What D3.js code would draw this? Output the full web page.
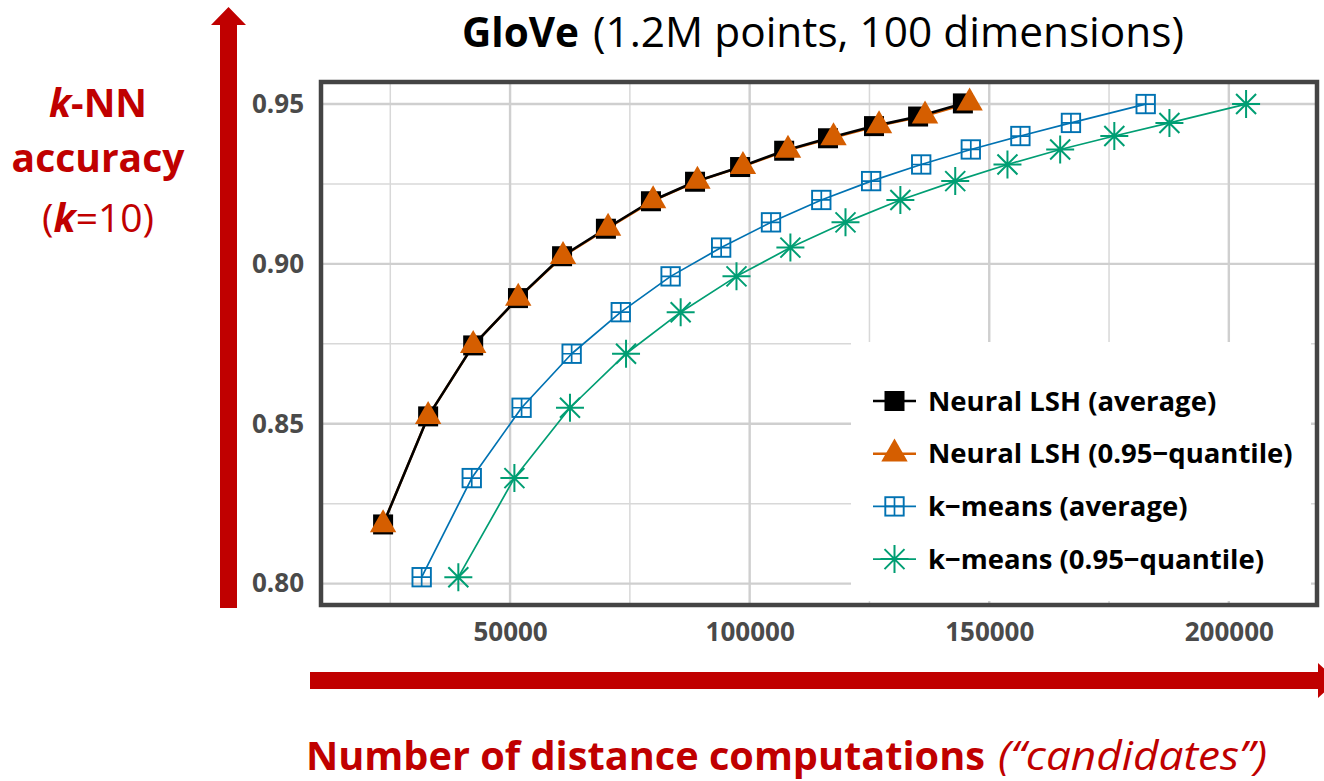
<!DOCTYPE html>
<html><head><meta charset="utf-8">
<script src="https://cdn.jsdelivr.net/npm/d3@7"></script>
<style>body{margin:0;background:#fff;} svg{display:block;}</style>
</head><body><svg id="c" width="1324" height="781"></svg>
<script>
// ---------- data ----------
const xTickValues = [50000, 100000, 150000, 200000];
const yTickValues = [0.80, 0.85, 0.90, 0.95];
const xMinorGrid = [25000, 75000, 125000, 175000];
const yMinorGrid = [0.825, 0.875, 0.925];

const seriesNames = ["Neural LSH (average)", "Neural LSH (0.95\u2212quantile)", "k\u2212means (average)", "k\u2212means (0.95\u2212quantile)"];

const nlshAvgX = [23500, 32900, 42300, 51650, 60850, 70000, 79400, 88600, 98000, 107200, 116350, 125950, 135150, 144500];
const nlshAvgY = [0.8185, 0.8523, 0.8745, 0.8893, 0.9024, 0.9110, 0.9196, 0.9257, 0.9303, 0.9354, 0.9393, 0.9431, 0.9461, 0.9502];

const nlshQX = [23500, 32900, 42300, 51700, 61050, 70450, 79850, 89100, 98600, 108000, 117500, 127000, 136600, 145900];
const nlshQY = [0.8185, 0.8523, 0.8745, 0.8893, 0.9024, 0.9112, 0.9198, 0.9259, 0.9305, 0.9356, 0.9395, 0.9433, 0.9463, 0.9504];

const kmAvgX = [31550, 42000, 52400, 62850, 73100, 83500, 94050, 104450, 114950, 125350, 135800, 146150, 156500, 167050, 182650];
const kmAvgY = [0.8020, 0.8330, 0.8550, 0.8719, 0.8849, 0.8961, 0.9051, 0.9130, 0.9200, 0.9259, 0.9311, 0.9358, 0.9400, 0.9441, 0.9500];

const kmQX = [39200, 50900, 62500, 74200, 85600, 97250, 108500, 120000, 131450, 142900, 153800, 164800, 176100, 187600, 203600];
const kmQY = [0.8020, 0.8330, 0.8550, 0.8719, 0.8849, 0.8961, 0.9051, 0.9130, 0.9200, 0.9259, 0.9311, 0.9358, 0.9400, 0.9441, 0.9500];

// ---------- setup ----------
const svg = d3.select("#c");
const RED = "#c00000";
const P = {l: 321, t: 82, r: 1317, b: 605};
const x = d3.scaleLinear().domain([10540, 218400]).range([P.l, P.r]);
const y = d3.scaleLinear().domain([0.7933, 0.9569]).range([P.b, P.t]);

const zip = (xs, ys) => xs.map((v, i) => ({x: v, y: ys[i]}));
const series = [
  {name: seriesNames[0], data: zip(nlshAvgX, nlshAvgY), color: "#000000", shape: "square", lw: 2.6},
  {name: seriesNames[1], data: zip(nlshQX, nlshQY), color: "#D55E00", shape: "triangle", lw: 2.4},
  {name: seriesNames[2], data: zip(kmAvgX, kmAvgY), color: "#0072B2", shape: "boxcross", lw: 1.7},
  {name: seriesNames[3], data: zip(kmQX, kmQY), color: "#009E73", shape: "asterisk", lw: 1.7}
];

// ---------- red arrows ----------
svg.append("path").attr("fill", RED)
  .attr("d", "M220,608 L220,25 L211,25 L228.5,7 L246,25 L237,25 L237,608 Z");
svg.append("path").attr("fill", RED)
  .attr("d", "M310,672 L1318,672 L1318,663 L1337,680.5 L1318,698 L1318,689 L310,689 Z");

// ---------- panel ----------
svg.append("rect").attr("x", P.l).attr("y", P.t).attr("width", P.r - P.l).attr("height", P.b - P.t).attr("fill", "#fff");
const grid = svg.append("g");
grid.selectAll(".vmin").data(xMinorGrid).join("line")
  .attr("x1", d => x(d)).attr("x2", d => x(d)).attr("y1", P.t).attr("y2", P.b)
  .attr("stroke", "#d8d8d8").attr("stroke-width", 1.5);
grid.selectAll(".hmin").data(yMinorGrid).join("line")
  .attr("y1", d => y(d)).attr("y2", d => y(d)).attr("x1", P.l).attr("x2", P.r)
  .attr("stroke", "#d8d8d8").attr("stroke-width", 1.5);
grid.selectAll(".vmaj").data(xTickValues).join("line")
  .attr("x1", d => x(d)).attr("x2", d => x(d)).attr("y1", P.t).attr("y2", P.b)
  .attr("stroke", "#cfcfcf").attr("stroke-width", 2.4);
grid.selectAll(".hmaj").data(yTickValues).join("line")
  .attr("y1", d => y(d)).attr("y2", d => y(d)).attr("x1", P.l).attr("x2", P.r)
  .attr("stroke", "#cfcfcf").attr("stroke-width", 2.4);

// ---------- markers ----------
function drawMarker(g, shape, color) {
  if (shape === "square") {
    g.append("rect").attr("x", -10).attr("y", -10).attr("width", 20).attr("height", 20).attr("fill", color);
  } else if (shape === "triangle") {
    g.append("path").attr("d", "M0,-15.3 L13.2,7.7 L-13.2,7.7 Z").attr("fill", color);
  } else if (shape === "boxcross") {
    g.append("rect").attr("x", -9.2).attr("y", -9.2).attr("width", 18.4).attr("height", 18.4)
      .attr("fill", "none").attr("stroke", color).attr("stroke-width", 1.9);
    g.append("path").attr("d", "M0,-9.2 L0,9.2 M-9.2,0 L9.2,0").attr("stroke", color).attr("stroke-width", 1.7);
  } else if (shape === "asterisk") {
    const r = 14, q = 10;
    g.append("path").attr("d", `M${-r},0 L${r},0 M0,${-r} L0,${r} M${-q},${-q} L${q},${q} M${-q},${q} L${q},${-q}`)
      .attr("stroke", color).attr("stroke-width", 2).attr("fill", "none");
  }
}

const line = d3.line().x(d => x(d.x)).y(d => y(d.y));
const lineOrder = [1, 0, 2, 3];
lineOrder.forEach(i => {
  const s = series[i];
  svg.append("path").datum(s.data).attr("d", line).attr("fill", "none")
    .attr("stroke", s.color).attr("stroke-width", s.lw).attr("stroke-linejoin", "round");
});
[0, 1, 2, 3].forEach(i => {
  const s = series[i];
  svg.append("g").selectAll("g").data(s.data).join("g")
    .attr("transform", d => `translate(${x(d.x)},${y(d.y)})`)
    .each(function () { drawMarker(d3.select(this), s.shape, s.color); });
});

// ---------- legend ----------
const leg = svg.append("g");
leg.append("rect").attr("x", 851).attr("y", 342).attr("width", 460).attr("height", 259).attr("fill", "#fff");
series.forEach((s, i) => {
  const cy = 401 + i * 52.7;
  const g = leg.append("g").attr("transform", `translate(0,${cy})`);
  g.append("line").attr("x1", 873).attr("x2", 916).attr("y1", 0).attr("y2", 0)
    .attr("stroke", s.color).attr("stroke-width", s.lw);
  drawMarker(g.append("g").attr("transform", "translate(894.5,0)"), s.shape, s.color);
  g.append("text").attr("x", 928).attr("y", 0).attr("dy", "0.35em")
    .attr("font-family", "Open Sans").attr("font-weight", 700).attr("font-size", 27.5)
    .attr("fill", "#000").text(s.name);
});

// ---------- border ----------
svg.append("rect").attr("x", P.l).attr("y", P.t).attr("width", P.r - P.l).attr("height", P.b - P.t)
  .attr("fill", "none").attr("stroke", "#444").attr("stroke-width", 4.5);

// ---------- axes ----------
const yAxis = d3.axisLeft(y).tickValues(yTickValues).tickFormat(d3.format(".2f")).tickSize(0).tickPadding(17);
const xAxis = d3.axisBottom(x).tickValues(xTickValues).tickFormat(d3.format("d")).tickSize(0).tickPadding(18);
const ya = svg.append("g").attr("transform", `translate(${P.l},0)`).call(yAxis);
const xa = svg.append("g").attr("transform", `translate(0,${P.b})`).call(xAxis);
[ya, xa].forEach(a => {
  a.select(".domain").remove();
  a.selectAll("text").attr("font-family", "Open Sans").attr("font-weight", 700)
    .attr("font-size", 26).attr("fill", "#4a4a4a");
});

// ---------- title ----------
svg.append("text").attr("x", 462).attr("y", 47).attr("font-family", "Open Sans").attr("font-weight", 700)
  .attr("font-size", 42).attr("fill", "#000").attr("textLength", 117).attr("lengthAdjust", "spacingAndGlyphs").text("GloVe");
svg.append("text").attr("x", 593).attr("y", 47).attr("font-family", "Open Sans").attr("font-weight", 400)
  .attr("font-size", 42).attr("fill", "#000").attr("textLength", 591).attr("lengthAdjust", "spacingAndGlyphs").text("(1.2M points, 100 dimensions)");

// ---------- y label (red) ----------
const yl = svg.append("g").attr("font-family", "Open Sans").attr("fill", RED).attr("font-size", 39).attr("text-anchor", "middle");
const l1 = yl.append("text").attr("x", 98).attr("y", 117).attr("font-weight", 700);
l1.append("tspan").attr("font-style", "italic").text("k");
l1.append("tspan").text("-NN");
yl.append("text").attr("x", 98).attr("y", 172).attr("font-weight", 700).text("accuracy");
const l3 = yl.append("text").attr("x", 98).attr("y", 232).attr("font-weight", 400);
l3.append("tspan").text("(");
l3.append("tspan").attr("font-style", "italic").attr("font-weight", 700).text("k");
l3.append("tspan").text("=10)");

// ---------- x label (red) ----------
svg.append("text").attr("x", 306).attr("y", 770).attr("font-family", "Open Sans").attr("font-weight", 700)
  .attr("font-size", 40).attr("fill", RED).attr("textLength", 679).attr("lengthAdjust", "spacingAndGlyphs")
  .text("Number of distance computations");
svg.append("text").attr("x", 998).attr("y", 770).attr("font-family", "Open Sans").attr("font-style", "italic").attr("font-weight", 400)
  .attr("font-size", 40).attr("fill", RED).attr("textLength", 269).attr("lengthAdjust", "spacingAndGlyphs")
  .text("(\u201Ccandidates\u201D)");
</script></body></html>
